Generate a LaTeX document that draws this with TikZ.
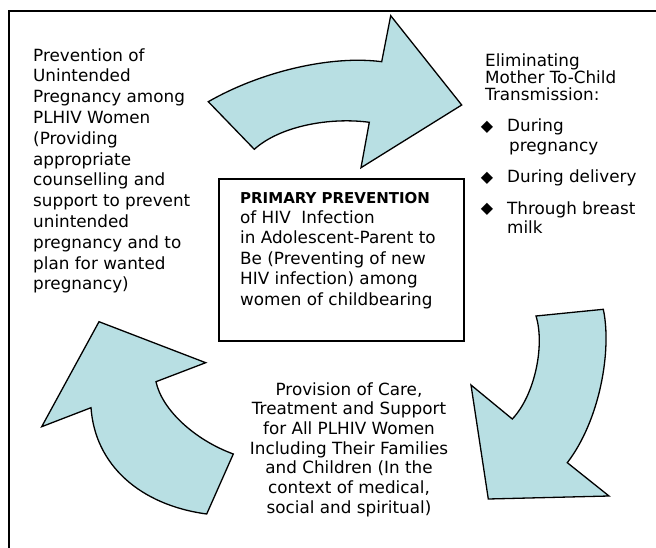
\documentclass[tikz,border=0pt]{standalone}
\usepackage{fontspec}
\setmainfont{DejaVu Sans}
\definecolor{arrowfill}{RGB}{184,223,227}
\begin{document}
\begin{tikzpicture}[x=1pt,y=-1pt,
  % multi-line blocks are placed by the baseline of their last line
  body/.style={inner sep=0pt, anchor=base west, align=left,
    font=\fontsize{16.8}{20.8}\selectfont},
  bullet/.style={inner sep=0pt, anchor=base, font=\fontsize{16}{16}\selectfont},
  cyclearrow/.style={draw=black, line width=1.3pt, fill=arrowfill, line join=miter},
]
\useasboundingbox (0,0) rectangle (656,548);
\fill[white] (0,0) rectangle (656,548);
\clip (0,0) rectangle (656,548);

% outer frame (runs off the right and bottom edges)
\draw[line width=2pt] (8.5,11) rectangle (690,590);

% central box
\node[draw, line width=1.7pt, minimum width=245pt, minimum height=162pt,
      inner sep=0pt, anchor=north west] (corebox) at (218,178) {};
\node[body, font=\fontsize{16.8}{20.4}\selectfont] (coretext) at (240,305)
  {{\bfseries\fontsize{15}{20.4}\selectfont PRIMARY PREVENTION}\\
   of HIV\ \ Infection\\
   in Adolescent-Parent to\\
   Be (Preventing of new\\
   HIV infection) among\\
   women of childbearing};

% upper left block
\node[body] (prevent) at (33,289.8)
  {Prevention of\\Unintended\\Pregnancy among\\PLHIV Women\\(Providing\\appropriate\\counselling and\\support to prevent\\unintended\\pregnancy and to\\plan for wanted\\pregnancy)};

% upper right block
\node[body, font=\fontsize{16.8}{16.7}\selectfont] (emtct) at (485,100.4)
  {Eliminating\\Mother To-Child\\Transmission:};
\node[bullet] (b1) at (487,132) {◆};
\node[body, font=\fontsize{16.8}{20}\selectfont] (i1) at (507,152) {During\\\hspace*{2pt}pregnancy};
\node[bullet] (b2) at (487,183) {◆};
\node[body] (i2) at (507,183) {During delivery};
\node[bullet] (b3) at (487,214) {◆};
\node[body, font=\fontsize{16.8}{19.5}\selectfont] (i3) at (507,233.5) {Through breast\\milk};

% bottom block
\node[inner sep=0pt, anchor=base, align=center,
      font=\fontsize{16.8}{19.7}\selectfont] (care) at (349,513.2)
  {Provision of Care,\\Treatment and Support\\for All PLHIV Women\\Including Their Families\\and Children (In the\\context of medical,\\social and spiritual)};

% curved arrows of the cycle
\draw[cyclearrow] (208.3,101.7) .. controls (260,72) and (330,55) .. (381.7,61.7)
  -- (390.7,15.7) -- (461.7,105) -- (361,167.7) -- (369.3,122.3)
  .. controls (330,117) and (280,126) .. (254.3,149.3) -- cycle;

\draw[cyclearrow] (536,316) -- (603.3,309.3)
  .. controls (612,350) and (600,420) .. (567.3,462.7)
  -- (609,496) -- (488.3,499) -- (471,385) -- (512.3,419)
  .. controls (535,395) and (545,345) .. (536,316) -- cycle;

\draw[cyclearrow] (99,321.7) -- (205.7,362.7) -- (156,381.7)
  .. controls (162,410) and (195,440) .. (233.3,454)
  -- (206.7,514)
  .. controls (140,505) and (95,465) .. (91,407.7)
  -- (41.7,426.7) -- cycle;
\end{tikzpicture}
\end{document}
